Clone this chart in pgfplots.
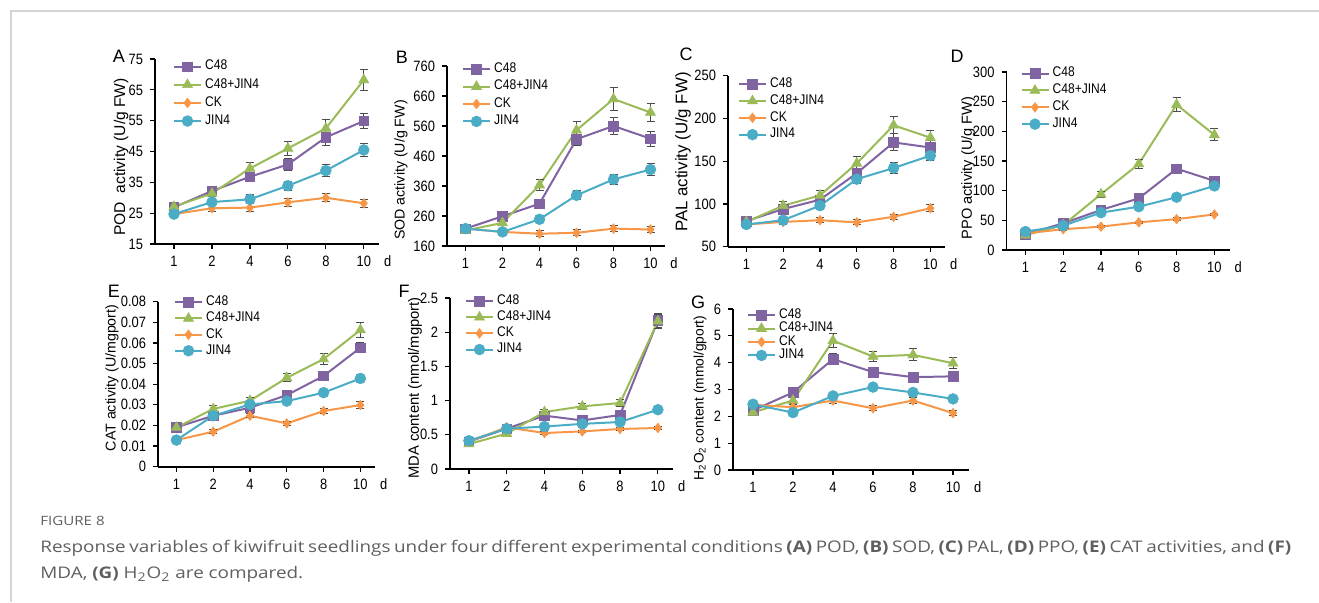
\documentclass[border=0pt]{standalone}
\usepackage{pgfplots}
\pgfplotsset{compat=1.18}
\usepackage{fontspec}
\setmainfont{Liberation Sans}
\newfontfamily\lsn[FakeStretch=0.86]{Liberation Sans}
\newfontfamily\capfont[FakeStretch=1.18]{Open Sans}

\definecolor{cPur}{HTML}{8064A2}
\definecolor{cGrn}{HTML}{9BBB59}
\definecolor{cOrg}{HTML}{F79646}
\definecolor{cBlu}{HTML}{4BACC6}
\definecolor{capgray}{HTML}{5F5F5F}
\definecolor{framegray}{HTML}{D4D4D4}

\newcommand\tf{\fontsize{7.5}{8}\lsn}
\newcommand\lf{\fontsize{7}{8}\lsn}

\pgfplotsset{
  base/.style={
    scale only axis, anchor=south west, clip=false,
    axis x line*=bottom, axis y line*=left,
    axis line style={black, line width=0.8pt},
    xmin=0.5, xmax=6.4,
    xtick={1,2,3,4,5,6}, xticklabels={1,2,4,6,8,10},
    tick align=outside, major tick length=2.5pt,
    tick style={black, line width=0.6pt},
    /pgf/number format/assume math mode=true,
    scaled y ticks=false,
    yticklabel style={/pgf/number format/fixed, /pgf/number format/precision=2},
    ticklabel style={font=\tf},
    xlabel={d},
    xlabel style={at={(rel axis cs:1,0)}, anchor=west, yshift=-8.5pt, xshift=-1pt, font=\tf},
    legend style={draw=none, fill=none, inner sep=0pt, outer sep=0pt,
      at={(rel axis cs:0,1)}, anchor=north west, font=\lf,
      nodes={inner sep=0.6pt}, row sep=0.5pt, column sep=1pt},
    legend cell align=left,
    legend image code/.code={\draw[mark repeat=2,mark phase=2] plot coordinates {(0pt,0pt)(6.75pt,0pt)(13.5pt,0pt)};},
  },
  ebar/.style={
    /pgfplots/error bars/y dir=both, /pgfplots/error bars/y explicit,
    /pgfplots/error bars/error bar style={line width=0.5pt, black!70, solid},
    /pgfplots/error bars/error mark options={rotate=90, black!70, line width=0.5pt, mark size=2pt},
  },
  sC48/.style={color=cPur, line width=1pt, mark=square*, mark size=2.4pt, mark options={solid, fill=cPur, line width=0.3pt}, ebar},
  sMix/.style={color=cGrn, line width=1pt, mark=triangle*, mark size=2.9pt, mark options={solid, fill=cGrn, line width=0.3pt}, ebar},
  sCK/.style={color=cOrg, line width=1pt, mark=diamond*, mark size=2.4pt, mark options={solid, fill=cOrg, line width=0.3pt}, ebar},
  sJIN/.style={color=cBlu, line width=1pt, mark=*, mark size=2.7pt, mark options={solid, fill=cBlu, line width=0.3pt}, ebar},
}

\begin{document}
\begin{tikzpicture}
\useasboundingbox (0,0) rectangle (659.5pt,301pt);
\draw[framegray, line width=0.75pt] (5.5pt,0pt) -- (5.5pt,295.5pt) -- (659.5pt,295.5pt);

% A  POD
\begin{axis}[base, at={(77.5pt,179pt)}, width=112pt, height=92.5pt,
  ymin=15, ymax=75, ytick={15,25,35,45,55,65,75},
  legend style={xshift=9pt, yshift=0pt, row sep=1.5pt}]
\addplot[sC48] coordinates {(1,26.9) +- (0,1.0) (2,32.2) +- (0,1.0) (3,36.8) +- (0,1.5) (4,40.8) +- (0,2.0) (5,49.6) +- (0,2.5) (6,54.9) +- (0,2.5)};
\addplot[sMix] coordinates {(1,27.1) +- (0,1.0) (2,31.4) +- (0,1.0) (3,39.5) +- (0,2.0) (4,46.0) +- (0,2.3) (5,52.5) +- (0,3.0) (6,68.2) +- (0,3.5)};
\addplot[sCK] coordinates {(1,24.7) +- (0,1.0) (2,26.6) +- (0,1.2) (3,26.8) +- (0,1.2) (4,28.5) +- (0,1.3) (5,30.0) +- (0,1.3) (6,28.2) +- (0,1.3)};
\addplot[sJIN] coordinates {(1,24.7) +- (0,1.0) (2,28.6) +- (0,1.2) (3,29.5) +- (0,1.5) (4,33.9) +- (0,1.5) (5,38.8) +- (0,2.0) (6,45.5) +- (0,2.2)};
\legend{C48,C48+JIN4,CK,JIN4}
\end{axis}

% B  SOD
\begin{axis}[base, at={(223.5pt,178pt)}, width=109.15pt, height=90pt,
  ymin=160, ymax=760, ytick={160,260,360,460,560,660,760},
  legend style={xshift=7.5pt, yshift=2.25pt, row sep=1.15pt}]
\addplot[sC48] coordinates {(1,218) +- (0,8) (2,259) +- (0,8) (3,301) +- (0,12) (4,516) +- (0,22) (5,560) +- (0,28) (6,518) +- (0,25)};
\addplot[sMix] coordinates {(1,212) +- (0,8) (2,237) +- (0,8) (3,363) +- (0,18) (4,546) +- (0,30) (5,650) +- (0,38) (6,605) +- (0,30)};
\addplot[sCK] coordinates {(1,218) +- (0,8) (2,207) +- (0,8) (3,201) +- (0,10) (4,204) +- (0,10) (5,218) +- (0,10) (6,215) +- (0,10)};
\addplot[sJIN] coordinates {(1,218) +- (0,8) (2,207) +- (0,8) (3,249) +- (0,12) (4,329) +- (0,15) (5,382) +- (0,18) (6,415) +- (0,20)};
\legend{C48,C48+JIN4,CK,JIN4}
\end{axis}

% C  PAL
\begin{axis}[base, at={(364pt,177.65pt)}, width=108.56pt, height=85.5pt,
  ymin=50, ymax=250, ytick={50,100,150,200,250},
  legend style={xshift=5pt, yshift=-0.4pt, row sep=0.85pt}]
\addplot[sC48] coordinates {(1,80) +- (0,3) (2,94) +- (0,4) (3,105) +- (0,5) (4,136) +- (0,6) (5,172) +- (0,10) (6,166) +- (0,8)};
\addplot[sMix] coordinates {(1,79) +- (0,3) (2,98) +- (0,5) (3,110) +- (0,6) (4,147.5) +- (0,8) (5,192) +- (0,10) (6,177.5) +- (0,8)};
\addplot[sCK] coordinates {(1,76) +- (0,3) (2,79) +- (0,3) (3,81) +- (0,3) (4,78.5) +- (0,3) (5,85) +- (0,3) (6,95) +- (0,4)};
\addplot[sJIN] coordinates {(1,76) +- (0,3) (2,81) +- (0,3) (3,98) +- (0,4) (4,129) +- (0,5) (5,142) +- (0,6) (6,156.5) +- (0,6)};
\legend{C48,C48+JIN4,CK,JIN4}
\end{axis}

% D  PPO
\begin{axis}[base, at={(503.25pt,176pt)}, width=111.5pt, height=89pt,
  ymin=0, ymax=300, ytick={0,50,100,150,200,250,300},
  legend style={xshift=7pt, yshift=3pt, row sep=0.85pt}]
\addplot[sC48] coordinates {(1,26.5) +- (0,2) (2,45) +- (0,3) (3,67.5) +- (0,3) (4,87) +- (0,4) (5,137) +- (0,5) (6,116.5) +- (0,4)};
\addplot[sMix] coordinates {(1,25) +- (0,2) (2,42) +- (0,3) (3,94) +- (0,5) (4,145) +- (0,7) (5,245) +- (0,12) (6,194) +- (0,10)};
\addplot[sCK] coordinates {(1,28) +- (0,2) (2,35) +- (0,2) (3,39.4) +- (0,2) (4,46.7) +- (0,2) (5,52) +- (0,2) (6,60) +- (0,2)};
\addplot[sJIN] coordinates {(1,31) +- (0,2) (2,41) +- (0,2) (3,63) +- (0,3) (4,73) +- (0,3) (5,89) +- (0,3) (6,108) +- (0,4)};
\legend{C48,C48+JIN4,CK,JIN4}
\end{axis}

% E  CAT
\begin{axis}[base, at={(79pt,67.65pt)}, width=108.56pt, height=82.5pt,
  ymin=0, ymax=0.08, ytick={0,0.01,0.02,0.03,0.04,0.05,0.06,0.07,0.08},
  legend style={xshift=8pt, yshift=3.5pt}]
\addplot[sC48] coordinates {(1,0.0191) +- (0,0.0015) (2,0.0247) +- (0,0.0015) (3,0.0286) +- (0,0.0015) (4,0.0347) +- (0,0.0015) (5,0.0440) +- (0,0.0020) (6,0.0577) +- (0,0.0025)};
\addplot[sMix] coordinates {(1,0.0190) +- (0,0.0012) (2,0.0280) +- (0,0.0015) (3,0.0320) +- (0,0.0015) (4,0.0431) +- (0,0.0020) (5,0.0522) +- (0,0.0025) (6,0.0663) +- (0,0.0035)};
\addplot[sCK] coordinates {(1,0.0129) +- (0,0.0010) (2,0.0170) +- (0,0.0010) (3,0.0247) +- (0,0.0010) (4,0.0210) +- (0,0.0010) (5,0.0270) +- (0,0.0010) (6,0.0299) +- (0,0.0015)};
\addplot[sJIN] coordinates {(1,0.0129) +- (0,0.0010) (2,0.0247) +- (0,0.0015) (3,0.0302) +- (0,0.0015) (4,0.0318) +- (0,0.0015) (5,0.0359) +- (0,0.0015) (6,0.0428) +- (0,0.0020)};
\legend{C48,C48+JIN4,CK,JIN4}
\end{axis}

% F  MDA
\begin{axis}[base, at={(225pt,66.5pt)}, width=111.5pt, height=85.5pt,
  ymin=0, ymax=2.5, ytick={0,0.5,1,1.5,2,2.5},
  legend style={xshift=7.5pt, yshift=2.25pt}]
\addplot[sC48] coordinates {(1,0.40) +- (0,0.02) (2,0.59) +- (0,0.03) (3,0.78) +- (0,0.04) (4,0.71) +- (0,0.03) (5,0.79) +- (0,0.04) (6,2.17) +- (0,0.10)};
\addplot[sMix] coordinates {(1,0.365) +- (0,0.02) (2,0.517) +- (0,0.03) (3,0.833) +- (0,0.04) (4,0.916) +- (0,0.04) (5,0.965) +- (0,0.05) (6,2.16) +- (0,0.10)};
\addplot[sCK] coordinates {(1,0.40) +- (0,0.02) (2,0.61) +- (0,0.02) (3,0.526) +- (0,0.02) (4,0.55) +- (0,0.02) (5,0.585) +- (0,0.02) (6,0.60) +- (0,0.02)};
\addplot[sJIN] coordinates {(1,0.414) +- (0,0.02) (2,0.59) +- (0,0.02) (3,0.62) +- (0,0.02) (4,0.66) +- (0,0.02) (5,0.687) +- (0,0.02) (6,0.867) +- (0,0.03)};
\legend{C48,C48+JIN4,CK,JIN4}
\end{axis}

% G  H2O2
\begin{axis}[base, at={(366.5pt,66pt)}, width=118pt, height=80.5pt,
  ymin=0, ymax=6, ytick={0,1,2,3,4,5,6},
  legend style={xshift=7pt, yshift=0.75pt, row sep=-0.85pt}]
\addplot[sC48] coordinates {(1,2.22) +- (0,0.10) (2,2.89) +- (0,0.10) (3,4.13) +- (0,0.20) (4,3.65) +- (0,0.15) (5,3.46) +- (0,0.12) (6,3.49) +- (0,0.15)};
\addplot[sMix] coordinates {(1,2.15) +- (0,0.10) (2,2.59) +- (0,0.10) (3,4.82) +- (0,0.25) (4,4.23) +- (0,0.20) (5,4.29) +- (0,0.22) (6,3.98) +- (0,0.20)};
\addplot[sCK] coordinates {(1,2.43) +- (0,0.10) (2,2.34) +- (0,0.10) (3,2.59) +- (0,0.12) (4,2.30) +- (0,0.10) (5,2.59) +- (0,0.12) (6,2.12) +- (0,0.10)};
\addplot[sJIN] coordinates {(1,2.45) +- (0,0.10) (2,2.14) +- (0,0.08) (3,2.76) +- (0,0.10) (4,3.09) +- (0,0.12) (5,2.89) +- (0,0.10) (6,2.65) +- (0,0.10)};
\legend{C48,C48+JIN4,CK,JIN4}
\end{axis}

% y axis titles
\node[rotate=90, font=\fontsize{7.8}{8}\selectfont] at (60.5pt,222.5pt) {POD\ \ activity (U/g FW)};
\node[rotate=90, font=\fontsize{7.1}{8}\selectfont] at (200.5pt,216pt) {SOD activity (U/g FW)};
\node[rotate=90, font=\fontsize{8.4}{8}\selectfont] at (341.5pt,225pt) {PAL activity (U/g FW)};
\node[rotate=90, font=\fontsize{7.3}{8}\selectfont] at (484pt,217pt) {PPO activity (U/g FW)};
\node[rotate=90, font=\fontsize{7.1}{8}\selectfont] at (56pt,112pt) {CAT activity (U/mgport)};
\node[rotate=90, font=\fontsize{7.4}{8}\selectfont] at (207.5pt,107pt) {MDA content (nmol/mgport)};
\node[rotate=90, font=\fontsize{6.9}{8}\selectfont] at (350pt,102pt) {H\textsubscript{2}O\textsubscript{2} content (mmol/gport)};

% panel letters
\begin{scope}[every node/.style={font=\fontsize{9}{9}\selectfont}]
\node at (59.5pt,273pt) {A};
\node at (201pt,272.5pt) {B};
\node at (343pt,274pt) {C};
\node at (478.5pt,273pt) {D};
\node at (57pt,155.5pt) {E};
\node at (202pt,155.5pt) {F};
\node at (349pt,150pt) {G};
\end{scope}

% caption
\node[anchor=base west, inner sep=0pt, text=capgray, font=\capfont\fontsize{6.4}{7}\selectfont] at (20pt,38.5pt) {FIGURE 8};
\node[anchor=base west, inner sep=0pt, text=capgray, font=\capfont\fontsize{8}{9}\selectfont] at (20pt,25pt)
  {\makebox[625.5pt][s]{Response variables of kiwifruit seedlings under four different experimental conditions \textbf{(A)} POD, \textbf{(B)} SOD, \textbf{(C)} PAL, \textbf{(D)} PPO, \textbf{(E)} CAT activities, and \textbf{(F)}}};
\node[anchor=base west, inner sep=0pt, text=capgray, font=\capfont\fontsize{8}{9}\selectfont] at (20pt,12pt)
  {MDA, \textbf{(G)} H\textsubscript{2}O\textsubscript{2} are compared.};
\end{tikzpicture}
\end{document}
